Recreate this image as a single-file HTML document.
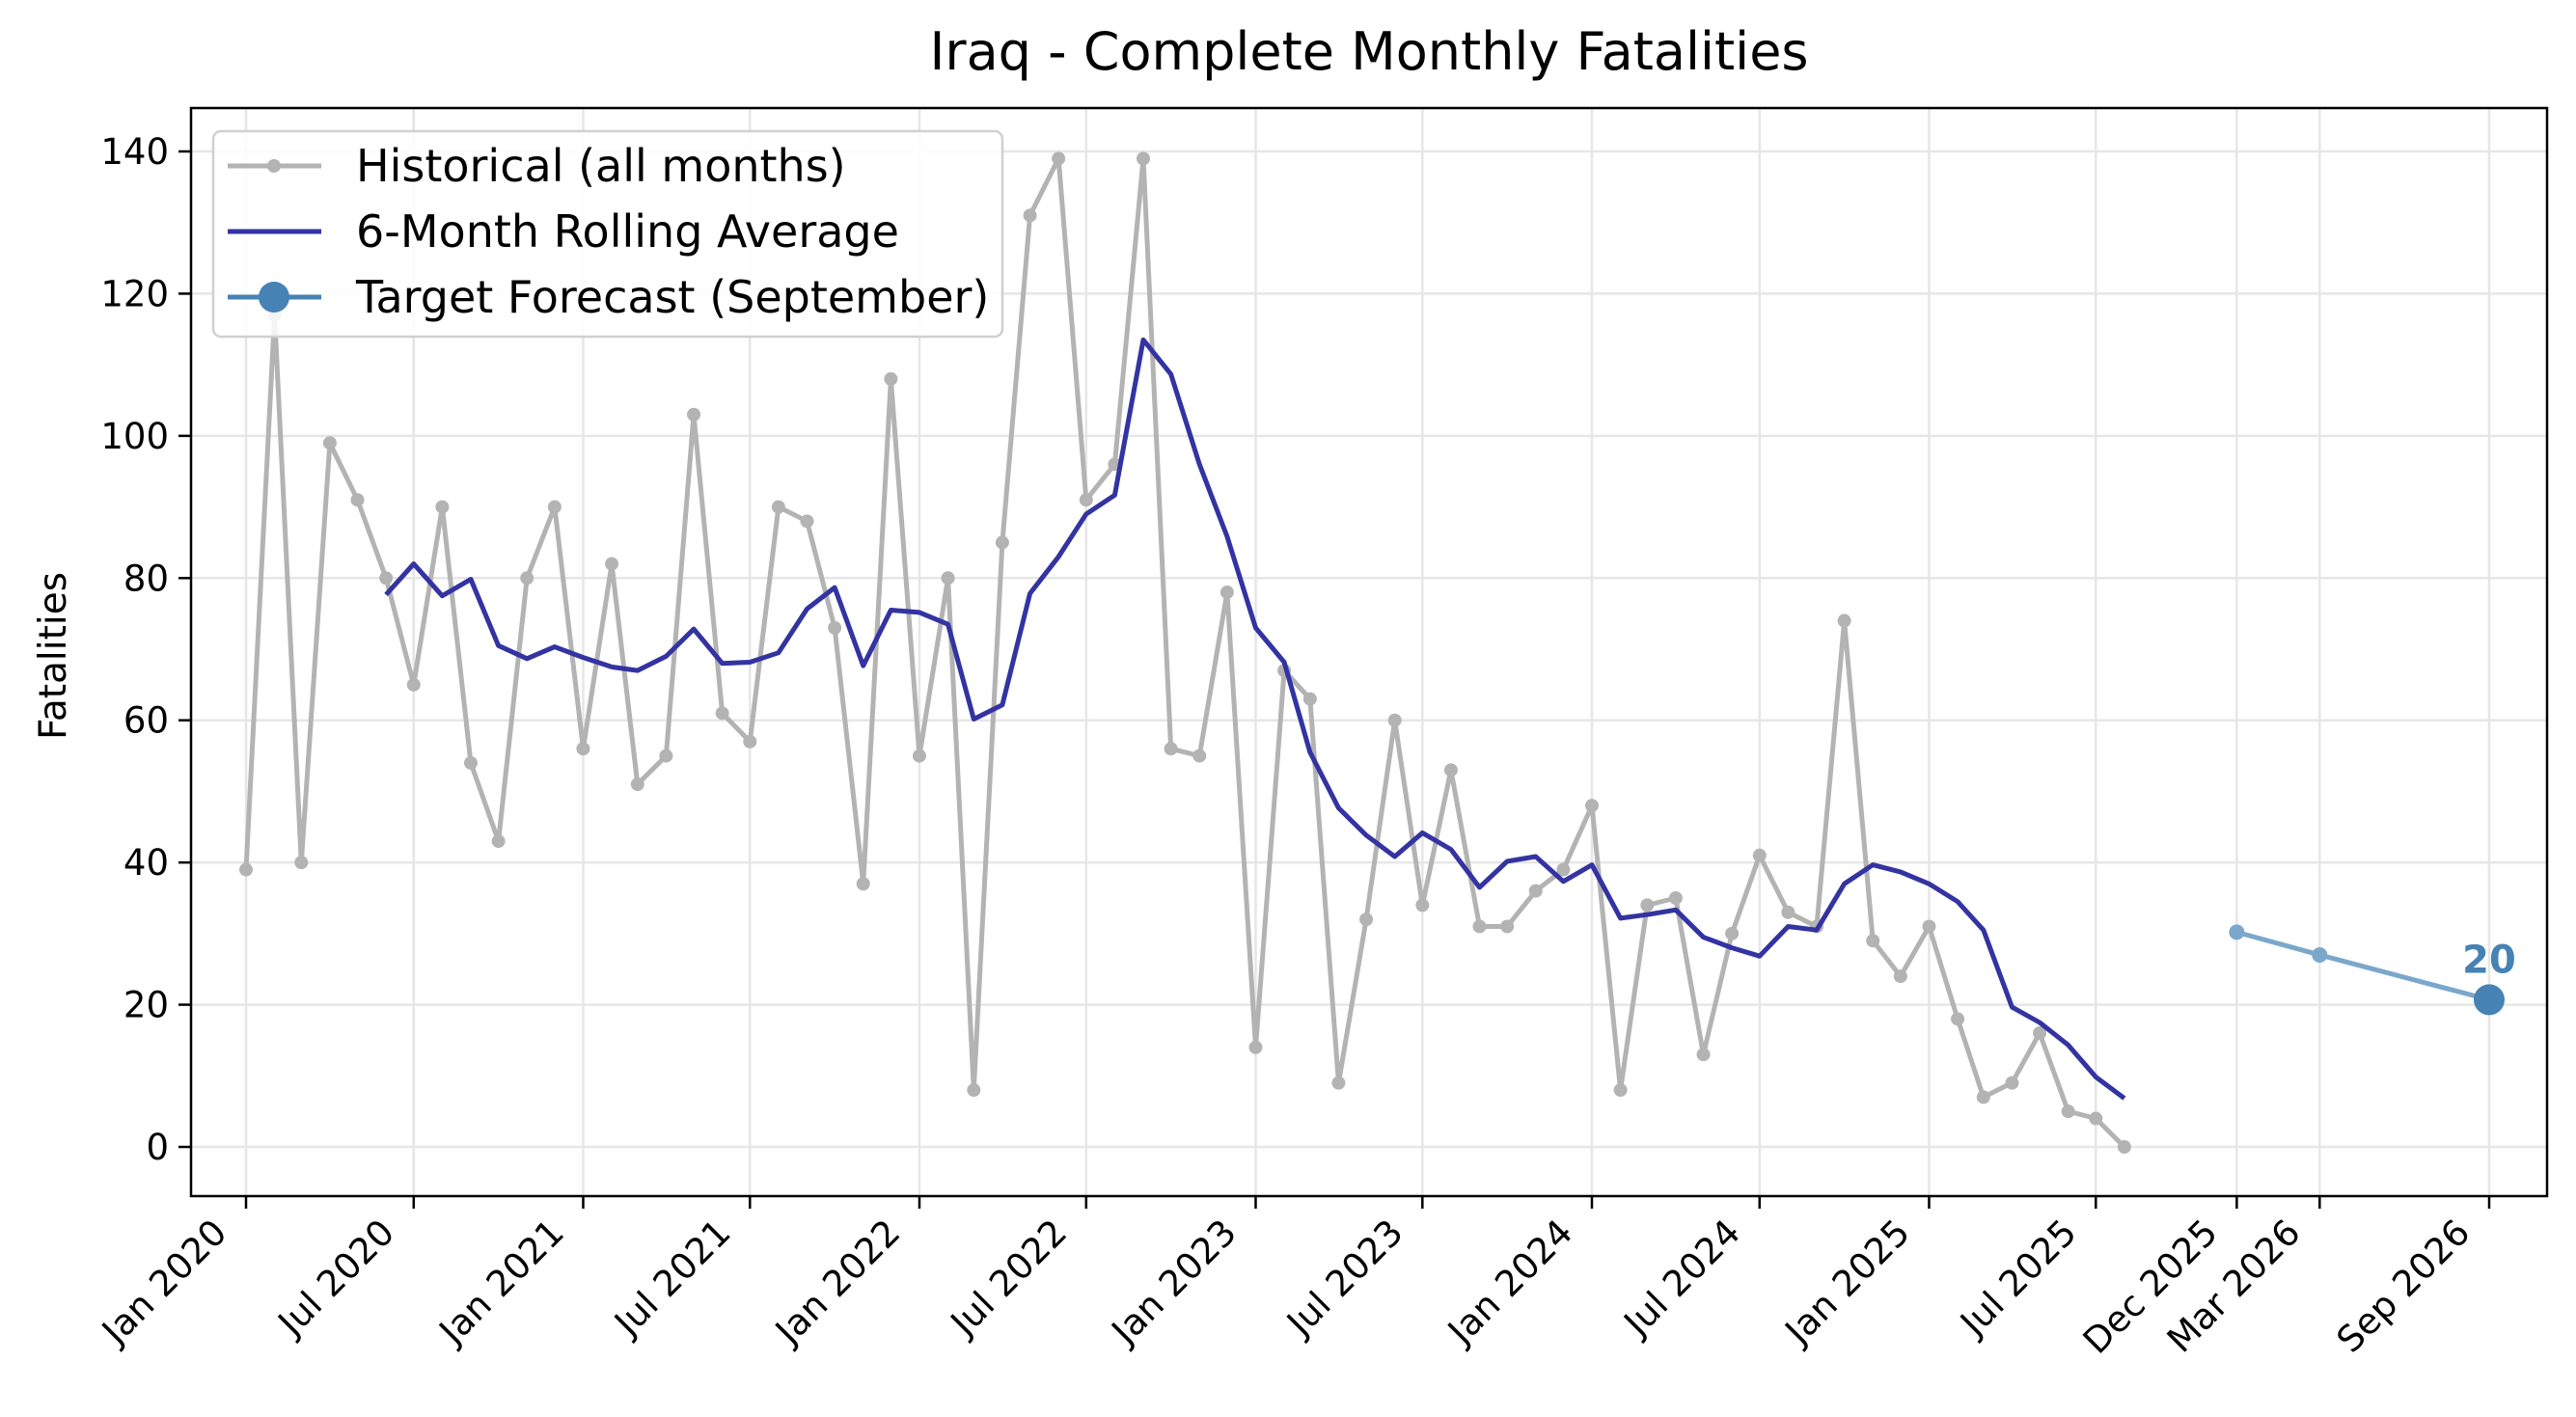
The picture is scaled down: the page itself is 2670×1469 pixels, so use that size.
<!DOCTYPE html>
<html><head><meta charset="utf-8"><style>
html,body{margin:0;padding:0;background:#fff;}
svg{display:block;font-family:"DejaVu Sans","Liberation Sans",sans-serif;}
</style></head><body>
<svg id="chart" width="2670" height="1469" viewBox="0 0 2670 1469" xmlns="http://www.w3.org/2000/svg">
<rect width="2670" height="1469" fill="#fff"/>
<text x="1419" y="72" font-size="54" text-anchor="middle" fill="#000">Iraq - Complete Monthly Fatalities</text>
<text transform="translate(68,680) rotate(-90)" font-size="39" text-anchor="middle" fill="#000">Fatalities</text>
<g id="grid"></g>
<g id="plot"></g>
<rect x="198" y="112" width="2442" height="1128" fill="none" stroke="#000" stroke-width="2.5"/>
<g id="axes"></g>
<g>
<rect x="221" y="136" width="818" height="213" rx="8" fill="#fff" fill-opacity="0.85" stroke="#d0d0d0" stroke-width="2.5"/>
<g>
<line x1="236" y1="172" x2="333" y2="172" stroke="#b3b3b3" stroke-width="5"/>
<circle cx="284" cy="172" r="7" fill="#b3b3b3"/>
<text x="369" y="188" font-size="46">Historical (all months)</text></g>
<g>
<line x1="236" y1="240" x2="333" y2="240" stroke="#3333a2" stroke-width="5"/>
<text x="369" y="256" font-size="46">6-Month Rolling Average</text></g>
<g>
<line x1="236" y1="308" x2="333" y2="308" stroke="#4682b4" stroke-width="5"/>
<circle cx="284" cy="308" r="16" fill="#4682b4"/>
<text x="369" y="324" font-size="46">Target Forecast (September)</text></g>
</g>
</svg>
<script>
const histValues=[39,117,40,99,91,80,65,90,54,43,80,90,
56,82,51,55,103,61,57,90,88,73,37,108,
55,80,8,85,131,139,91,96,139,56,55,78,
14,67,63,9,32,60,34,53,31,31,36,39,
48,8,34,35,13,30,41,33,31,74,29,24,
31,18,7,9,16,5,4,0];
const histStart=[2020,0];
const forecastDates=[[2025,11],[2026,2],[2026,8]];
const forecastValues=[30.2,27,20.7];
const forecastLabel=["20"];
const yTicks=[0,20,40,60,80,100,120,140];
const xTickDates=[[2020,0],[2020,6],[2021,0],[2021,6],[2022,0],[2022,6],[2023,0],[2023,6],[2024,0],[2024,6],[2025,0],[2025,6],[2025,11],[2026,2],[2026,8]];
const xTickLabels=["Jan 2020","Jul 2020","Jan 2021","Jul 2021","Jan 2022","Jul 2022","Jan 2023","Jul 2023","Jan 2024","Jul 2024","Jan 2025","Jul 2025","Dec 2025","Mar 2026","Sep 2026"];

const NS="http://www.w3.org/2000/svg";
const T0=Date.UTC(2020,0,1), T1=Date.UTC(2026,8,1);
function X(y,m){return 255+(Date.UTC(y,m,1)-T0)/(T1-T0)*(2580-255);}
function Y(v){return 1189-v*(1189-157)/140;}
function mk(tag,attrs,parent){const e=document.createElementNS(NS,tag);for(const k in attrs)e.setAttribute(k,attrs[k]);parent.appendChild(e);return e;}
const grid=document.getElementById('grid'),plot=document.getElementById('plot'),axes=document.getElementById('axes');

yTicks.forEach(v=>{
  const g=mk('line',{x1:198,x2:2640,y1:Y(v),y2:Y(v),stroke:'#e6e6e6','stroke-width':2.5},grid);
  
  
  const t=mk('line',{x1:185,x2:198,y1:Y(v),y2:Y(v),stroke:'#000','stroke-width':2.5},axes);
  
  
  const l=mk('text',{x:175,y:Y(v)+13,'font-size':37,'text-anchor':'end'},axes);
  l.textContent=v;
  
  
});
xTickDates.forEach((d,i)=>{
  const x=X(d[0],d[1]);
  const g=mk('line',{x1:x,x2:x,y1:112,y2:1240,stroke:'#e6e6e6','stroke-width':2.5},grid);
  
  
  const t=mk('line',{x1:x,x2:x,y1:1240,y2:1253,stroke:'#000','stroke-width':2.5},axes);
  
  
  const l=mk('text',{'font-size':37,'text-anchor':'end',transform:`translate(${x-18},${1280}) rotate(-45)`},axes);
  l.textContent=xTickLabels[i];
  
  
});

const hx=histValues.map((v,i)=>{const m=histStart[1]+i;return X(histStart[0]+Math.floor(m/12),m%12);});
const hp=mk('polyline',{points:histValues.map((v,i)=>hx[i]+','+Y(v)).join(' '),fill:'none',stroke:'#b3b3b3','stroke-width':5,'stroke-linejoin':'round'},plot);


histValues.forEach((v,i)=>{
  const c=mk('circle',{cx:hx[i],cy:Y(v),r:7,fill:'#b3b3b3'},plot);
  
  
});
const rollPts=[];
for(let i=5;i<histValues.length;i++){let s=0;for(let j=i-5;j<=i;j++)s+=histValues[j];rollPts.push(hx[i]+','+Y(s/6));}
const rp=mk('polyline',{points:rollPts.join(' '),fill:'none',stroke:'#3333a2','stroke-width':5,'stroke-linejoin':'round'},plot);



const fx=forecastDates.map(d=>X(d[0],d[1]));
const fp=mk('polyline',{points:forecastValues.map((v,i)=>fx[i]+','+Y(v)).join(' '),fill:'none',stroke:'#7ba7cb','stroke-width':5},plot);


forecastValues.forEach((v,i)=>{
  const last=i===forecastValues.length-1;
  const c=mk('circle',{cx:fx[i],cy:Y(v),r:last?16:8,fill:last?'#4682b4':'#7ba7cb'},plot);
  
  
});
const li=forecastValues.length-1;
const fl=mk('text',{x:fx[li],y:Y(forecastValues[li])-28,'font-size':40,'font-weight':'bold','text-anchor':'middle',fill:'#4682b4'},plot);
fl.textContent=forecastLabel[0];


</script>
</body></html>
